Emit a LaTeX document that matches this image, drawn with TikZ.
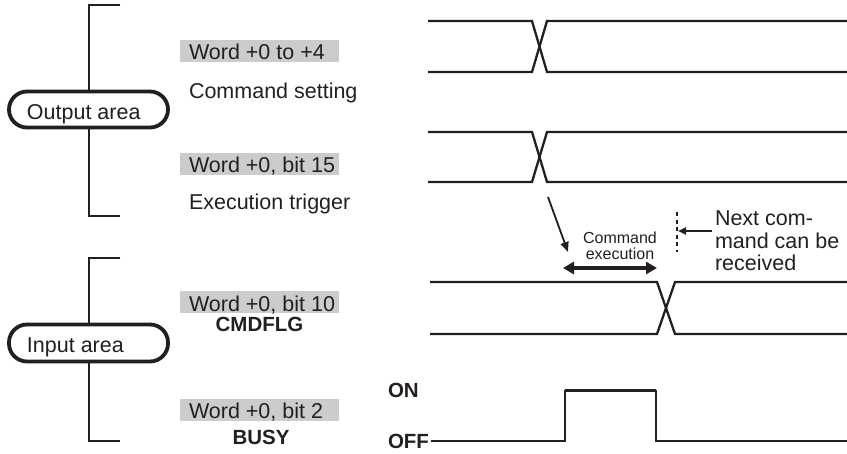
\documentclass[tikz,border=0pt]{standalone}
\usepackage{fontspec}
\setmainfont{Liberation Sans}
\usetikzlibrary{arrows.meta}
\definecolor{txt}{HTML}{231F20}
\definecolor{lbl}{gray}{0.80}
\begin{document}
\begin{tikzpicture}[x=1pt,y=-1pt,
  every node/.style={inner sep=0pt, outer sep=0pt, text=txt},
  main/.style={font=\fontsize{21.5}{22.5}\selectfont, anchor=base west},
  boldlbl/.style={font=\fontsize{20.5}{22}\selectfont\bfseries},
  small/.style={font=\fontsize{16}{16}\selectfont, anchor=base},
  graybox/.style={fill=lbl, minimum width=159pt, minimum height=22pt, anchor=north west},
  area/.style={draw=txt, line width=3.8pt, fill=white, rounded corners=18pt, minimum width=159pt, minimum height=36pt},
  sig/.style={line width=2.3pt, draw=txt},
  brk/.style={line width=2.5pt, draw=txt},
]
\useasboundingbox (0,0) rectangle (847,453);

% brackets
\draw[brk] (120,5) -- (89,5) -- (89,216) -- (120,216);
\draw[brk] (120,258) -- (89,258) -- (89,441) -- (120,441);

% area pills
\node[area] (outarea) at (88.5,109.5) {};
\node[main] (outtext) at (27,119) {Output area};
\node[area, minimum height=37pt] (inarea) at (88.5,343) {};
\node[main] (intext) at (27,352.7) {Input area};

% gray label boxes
\node[graybox] (g1) at (180,40) {};
\node[graybox] (g2) at (180,153) {};
\node[graybox] (g3) at (180,291) {};
\node[graybox] (g4) at (180,399) {};
\node[main] (w1) at (189,59.5) {Word +0 to +4};
\node[main] (w2) at (189,172) {Word +0, bit 15};
\node[main] (w3) at (189,311) {Word +0, bit 10};
\node[main] (w4) at (189,418.7) {Word +0, bit 2};
\node[main] (cs) at (189,98) {Command setting};
\node[main] (et) at (189,209) {Execution trigger};
\node[boldlbl, anchor=base] (cmdflg) at (259.5,331.7) {CMDFLG};
\node[boldlbl, anchor=base] (busy) at (261,444) {BUSY};
\node[boldlbl, anchor=base west] (on) at (388,397.7) {ON};
\node[boldlbl, anchor=base west] (off) at (388,448) {OFF};

% signal 1
\draw[sig] (428,21) -- (532,21) -- (547,72) -- (847,72);
\draw[sig] (428,72) -- (532,72) -- (547,21) -- (847,21);
% signal 2
\draw[sig] (428,132) -- (532,132) -- (547,182) -- (847,182);
\draw[sig] (428,182) -- (532,182) -- (547,132) -- (847,132);
% signal 3
\draw[sig] (430,282) -- (657,282) -- (675,334) -- (847,334);
\draw[sig] (430,334) -- (657,334) -- (675,282) -- (847,282);
% busy
\coordinate (offend) at ([xshift=2pt]off.east |- 0,441);
\draw[sig] (offend) -- (565,441) -- (565,391) -- (656,391) -- (656,441) -- (847,441);
\draw[line width=3.8pt, draw=txt] (565,390.5) -- (656,390.5);

% arrows
\coordinate (d1) at (548,197);
\coordinate (d2) at (568,252);
\draw[line width=1.8pt, draw=txt, -{Triangle[length=10pt,width=8pt]}] (d1) -- (d2);
\coordinate (e1) at (563,268);
\coordinate (e2) at (657,268);
\draw[line width=3.8pt, draw=txt, {Triangle[length=11pt,width=12pt]}-{Triangle[length=11pt,width=12pt]}] (e1) -- (e2);
\coordinate (v1) at (677,212);
\coordinate (v2) at (677,252);
\draw[line width=2.2pt, draw=txt, dash pattern=on 4pt off 3.5pt] (v1) -- (v2);
\coordinate (n1) at (712,231);
\coordinate (n2) at (678,231);
\draw[line width=2.2pt, draw=txt, -{Triangle[length=8pt,width=7pt]}] (n1) -- (n2);

% texts
\node[small] (ce1) at (620,243) {Command};
\node[small] (ce2) at (620,259) {execution};
\node[main] (nx1) at (715,225) {Next com-};
\node[main] (nx2) at (715,248) {mand can be};
\node[main] (nx3) at (715,270) {received};
\end{tikzpicture}
\end{document}
